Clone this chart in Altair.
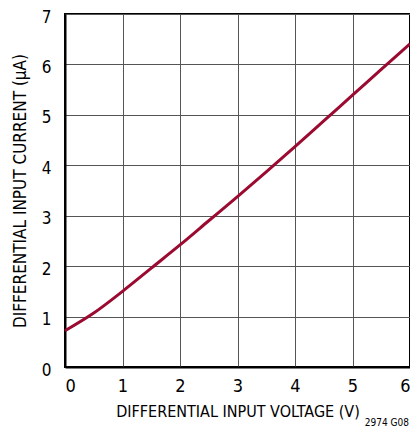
import altair as alt
import pandas as pd

vin = [0, 0.5, 1, 1.5, 2, 2.5, 3, 3.5, 4, 4.5, 5, 5.5, 6]
iin = [0.72, 1.07, 1.50, 1.96, 2.42, 2.90, 3.38, 3.87, 4.37, 4.88, 5.39, 5.90, 6.41]

df = pd.DataFrame({"v": vin, "i": iin})
FONT = "'DejaVu Sans Condensed', Roboto, 'Liberation Sans', sans-serif"

line = alt.Chart(df).mark_line(color="#9b0a30", strokeWidth=3, interpolate="monotone").encode(
    x=alt.X("v:Q", scale=alt.Scale(domain=[0, 6], nice=False),
            axis=alt.Axis(title="DIFFERENTIAL INPUT VOLTAGE (V)", values=[0, 1, 2, 3, 4, 5, 6],
                          format="d", grid=True, gridColor="#555", gridWidth=1,
                          ticks=False, domainColor="#000", domainWidth=2,
                          labelFont=FONT, labelFontSize=18, labelColor="#000", labelPadding=10,
                          titleFont=FONT, titleFontSize=16, titleFontWeight="normal",
                          titleColor="#000", titlePadding=8)),
    y=alt.Y("i:Q", scale=alt.Scale(domain=[0, 7], nice=False),
            axis=alt.Axis(title="DIFFERENTIAL INPUT CURRENT (µA)", values=list(range(8)),
                          format="d", grid=True, gridColor="#555", gridWidth=1,
                          ticks=False, domainColor="#000", domainWidth=2,
                          labelFont=FONT, labelFontSize=17, labelColor="#000", labelPadding=14,
                          labelOffset=3,
                          titleFont=FONT, titleFontSize=17, titleFontWeight="normal",
                          titleColor="#000", titlePadding=12)),
)

note = alt.Chart(pd.DataFrame({"t": ["2974 G08"]})).mark_text(
    font=FONT, fontSize=10, color="#000", align="right", baseline="middle"
).encode(text="t:N", x=alt.value(344), y=alt.value(409))

chart = (line + note).properties(
    width=345, height=353,
    autosize=alt.AutoSizeParams(type="none"),
    padding={"left": 57, "top": 6, "right": 0, "bottom": 61},
).configure_view(stroke="#000", strokeWidth=2)

chart.save("out.html", embed_options={"renderer": "svg", "actions": False})
